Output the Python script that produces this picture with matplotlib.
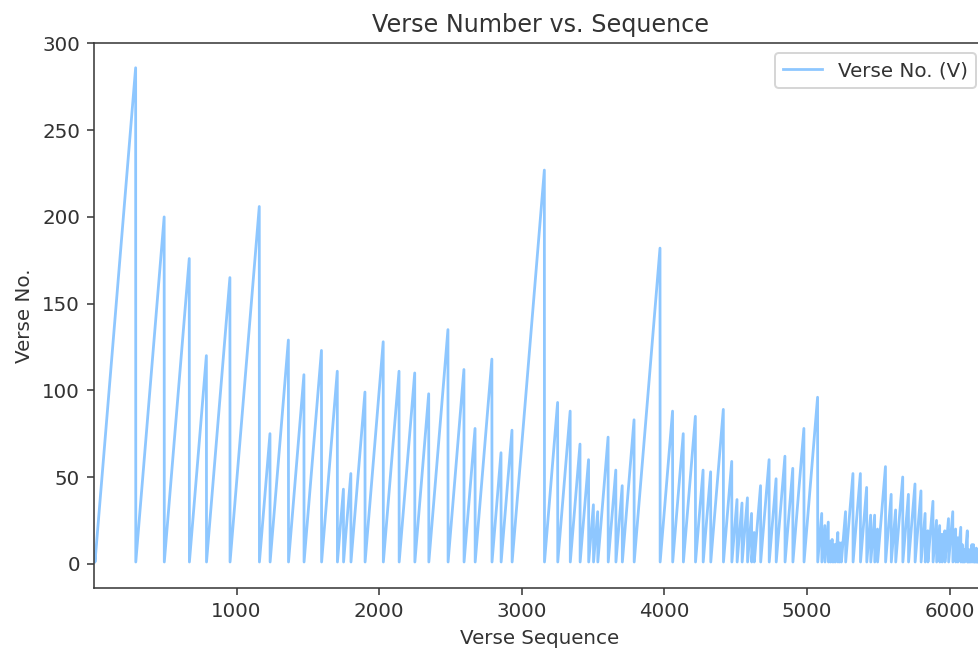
import numpy as np
import matplotlib
matplotlib.use("Agg")
import matplotlib.pyplot as plt

# numero de versos de cada sura (114 suras)
verse_counts = [7, 286, 200, 176, 120, 165, 206, 75, 129, 109, 123, 111, 43, 52, 99,
                128, 111, 110, 98, 135, 112, 78, 118, 64, 77, 227, 93, 88, 69, 60,
                34, 30, 73, 54, 45, 83, 182, 88, 75, 85, 54, 53, 89, 59, 37, 35,
                38, 29, 18, 45, 60, 49, 62, 55, 78, 96, 29, 22, 24, 13, 14, 11, 11,
                18, 12, 12, 30, 52, 52, 44, 28, 28, 20, 56, 40, 31, 50, 40, 46, 42,
                29, 19, 36, 25, 22, 17, 19, 26, 30, 20, 15, 21, 11, 8, 8, 19, 5, 8,
                8, 11, 11, 8, 3, 9, 5, 4, 7, 3, 6, 3, 5, 4, 5, 6]

verse_no = np.concatenate([np.arange(1, n + 1) for n in verse_counts])
verse_seq = np.arange(len(verse_no))

gris = '#333333'
plt.rcParams['text.color'] = gris
plt.rcParams['axes.labelcolor'] = gris
plt.rcParams['xtick.color'] = '#3a3a3a'
plt.rcParams['ytick.color'] = '#3a3a3a'
plt.rcParams['xtick.labelcolor'] = gris
plt.rcParams['ytick.labelcolor'] = gris
plt.rcParams['axes.edgecolor'] = '#3a3a3a'

dpi = 143
fig = plt.figure(figsize=(978 / dpi, 650 / dpi), dpi=dpi)
ax = fig.add_axes([94 / 978, (650 - 588) / 650, (986 - 94) / 978, (588 - 43.5) / 650])

ax.plot(verse_seq, verse_no, color='dodgerblue', alpha=0.5, linewidth=1.4,
        label='Verse No. (V)')

ax.set_xlim([verse_seq[0], verse_seq[-1] + 20])
ax.set_ylim([-14, 300])
ax.set_xticks([1000, 2000, 3000, 4000, 5000, 6000])

ax.set_title("Verse Number vs. Sequence")
ax.set_xlabel("Verse Sequence")
ax.set_ylabel("Verse No.")

ax.legend(loc='upper right')
fig.savefig("out.png", dpi=dpi)
